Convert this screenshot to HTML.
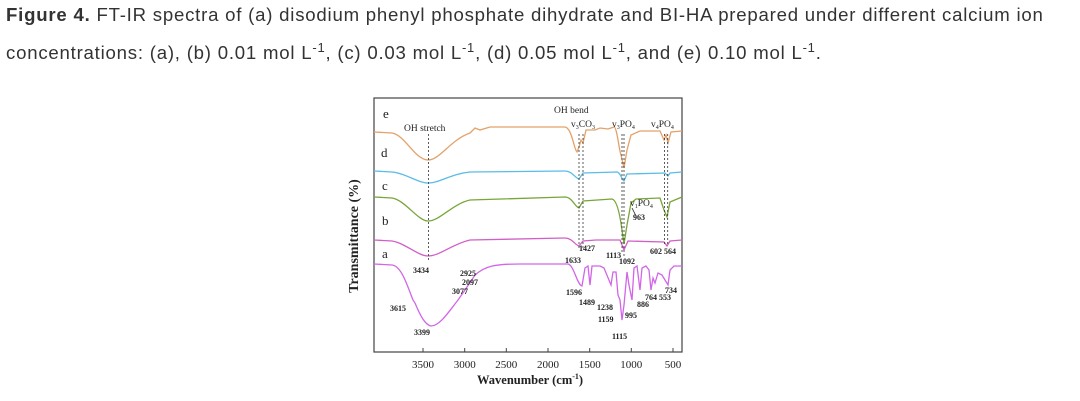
<!DOCTYPE html>
<html><head><meta charset="utf-8"><style>
body{margin:0;width:1080px;height:401px;background:#fff;overflow:hidden;position:relative;font-family:"Liberation Sans",sans-serif}
.cap{position:absolute;left:6px;font-size:18.6px;color:#333;white-space:nowrap;letter-spacing:0.78px}
</style></head><body>
<div class="cap" style="top:4px"><b>Figure 4.</b> FT-IR spectra of (a) disodium phenyl phosphate dihydrate and BI-HA prepared under different calcium ion</div>
<div class="cap" style="top:40px">concentrations: (a), (b) 0.01 mol L<sup style="font-size:13px">-1</sup>, (c) 0.03 mol L<sup style="font-size:13px">-1</sup>, (d) 0.05 mol L<sup style="font-size:13px">-1</sup>, and (e) 0.10 mol L<sup style="font-size:13px">-1</sup>.</div>
<svg width="1080" height="401" style="position:absolute;left:0;top:0" font-family="Liberation Serif,serif" fill="#222">
<rect x="374" y="98" width="308" height="254" fill="none" stroke="#444" stroke-width="1.2"/>
<g fill="none" stroke-width="1.3">
<path stroke="#e3a26a" d="M374 132 L392 133 C405 135 415 160 428 160 C440 160 450 140 470 133 L475 128 L480 130 L490 127 L565 127 C572 128 574 150 577 152 L579 147 L581 140 L583 143 L586 130 L595 130 L600 128 L608 129 L614 127 C617 127 619 150 621 155 L624 168 L627 150 L631 135 L640 131 L660 131 L664 140 L666 135 L668 143 L671 132 L682 131"/>
<path stroke="#5bbce6" d="M374 171 L392 172 C405 173 418 183 428 183 C440 183 450 174 470 172 L565 171 C572 171 575 178 579 179 L583 173 L617 172 C620 172 622 180 624 181 L627 174 L665 173 L668 176 L670 173 L682 172"/>
<path stroke="#78a63a" d="M374 197 L392 198 C405 200 418 221 428 221 C440 221 452 204 470 200 L565 197 C572 197 575 207 579 208 L583 201 L612 199 C617 200 620 215 622 230 L624 244 L627 225 L631 203 L636 199 L660 198 L664 210 L667 217 L670 202 L682 197"/>
<path stroke="#d160c6" d="M374 240 L392 241 C405 243 418 256 428 256 C440 256 452 244 470 240 L565 238 C572 238 575 245 579 246 L583 241 L596 240 L620 240 L624 250 L628 241 L664 242 L667 246 L670 241 L682 240"/>
<path stroke="#d166e8" d="M374 264 L392 265 C402 266 408 288 413 300 L415 303 C420 315 425 325 431 326 C440 326 450 310 458 300 L465 290 L475 275 C485 266 495 264 520 264 L568 264 C574 265 577 285 582 286 L585 268 L588 266 L590 285 L592 266 L600 266 L604 268 L611 285 L613 272 L616 272 L618 295 L620 300 L622 320 L624 305 L627 272 L629 285 L632 300 L634 268 L637 266 L640 290 L642 268 L646 266 L649 270 L651 290 L653 278 L655 283 L658 273 L662 275 L665 280 L668 285 L670 270 L674 266 L682 266"/>
</g>
<g stroke="#333" stroke-width="0.8" stroke-dasharray="2,2">
<line x1="428.5" y1="134" x2="428.5" y2="260"/><line x1="579" y1="134" x2="579" y2="250"/><line x1="583" y1="134" x2="583" y2="250"/>
<line x1="622" y1="134" x2="622" y2="252"/><line x1="624" y1="134" x2="624" y2="258"/><line x1="664.5" y1="134" x2="664.5" y2="246"/><line x1="667.7" y1="134" x2="667.7" y2="246"/>
</g>
<g stroke="#444"><line x1="423" y1="352" x2="423" y2="348"/><line x1="464.7" y1="352" x2="464.7" y2="348"/><line x1="506.3" y1="352" x2="506.3" y2="348"/><line x1="548" y1="352" x2="548" y2="348"/><line x1="589.7" y1="352" x2="589.7" y2="348"/><line x1="631.3" y1="352" x2="631.3" y2="348"/><line x1="673" y1="352" x2="673" y2="348"/></g>
<g font-size="11" text-anchor="middle"><text x="423" y="368">3500</text><text x="464.7" y="368">3000</text><text x="506.3" y="368">2500</text><text x="548" y="368">2000</text><text x="589.7" y="368">1500</text><text x="631.3" y="368">1000</text><text x="673" y="368">500</text></g>
<g font-size="13"><text x="383" y="118">e</text><text x="381" y="157">d</text><text x="382" y="190">c</text><text x="382" y="225">b</text><text x="382" y="258">a</text></g>
<g font-size="9.5">
<text x="404" y="131">OH stretch</text><text x="554" y="113">OH bend</text>
<text x="571" y="127">v<tspan font-size="6" dy="2">3</tspan><tspan dy="-2">CO</tspan><tspan font-size="6" dy="2">3</tspan></text>
<text x="612" y="127">v<tspan font-size="6" dy="2">3</tspan><tspan dy="-2">PO</tspan><tspan font-size="6" dy="2">4</tspan></text>
<text x="651" y="127">v<tspan font-size="6" dy="2">4</tspan><tspan dy="-2">PO</tspan><tspan font-size="6" dy="2">4</tspan></text>
<text x="630" y="206">v<tspan font-size="6" dy="2">1</tspan><tspan dy="-2">PO</tspan><tspan font-size="6" dy="2">4</tspan></text>
</g>
<path d="M632 208 L636 216" stroke="#222" stroke-width="0.8"/>
<g font-size="8" font-weight="bold">
<text x="633" y="220">963</text><text x="579" y="251">1427</text><text x="565" y="263">1633</text><text x="606" y="258">1113</text><text x="619" y="264">1092</text><text x="650" y="254">602 564</text>
<text x="413" y="273">3434</text><text x="460" y="276">2925</text><text x="462" y="285">2097</text><text x="452" y="294">3077</text><text x="390" y="311">3615</text><text x="414" y="335">3399</text>
<text x="566" y="295">1596</text><text x="579" y="305">1489</text><text x="597" y="310">1238</text><text x="598" y="322">1159</text><text x="612" y="339">1115</text><text x="625" y="318">995</text><text x="637" y="307">886</text><text x="645" y="300">764 553</text><text x="665" y="293">734</text>
</g>
<text x="477" y="384" font-size="12.5" font-weight="bold">Wavenumber (cm<tspan font-size="8" dy="-5">-1</tspan><tspan dy="5">)</tspan></text>
<text transform="translate(358,236) rotate(-90)" font-size="14" font-weight="bold" text-anchor="middle">Transmittance (%)</text>
</svg>
</body></html>
